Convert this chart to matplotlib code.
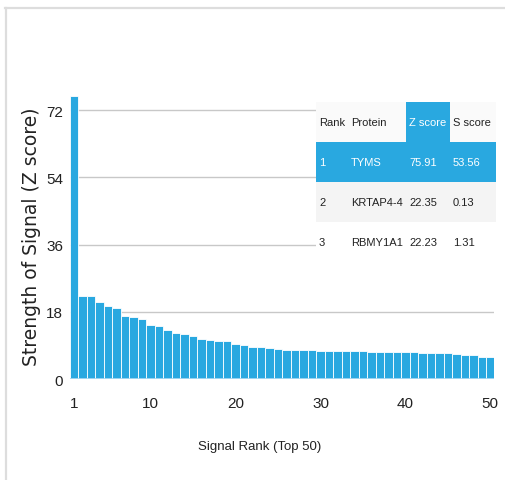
import matplotlib.pyplot as plt
from matplotlib.lines import Line2D
from matplotlib.patches import Rectangle

# Z scores of the top 50 signals
ranks = list(range(1, 51))
zscores = [75.91, 22.35, 22.23, 20.7, 19.5, 19.1, 16.9, 16.7, 16.0, 14.5,
           14.1, 13.2, 12.2, 12.0, 11.6, 10.8, 10.4, 10.3, 10.3, 9.5,
           9.2, 8.7, 8.6, 8.3, 8.1, 7.9, 7.8, 7.7, 7.7, 7.5,
           7.5, 7.5, 7.4, 7.4, 7.4, 7.3, 7.3, 7.3, 7.2, 7.2,
           7.2, 7.1, 7.1, 7.0, 6.9, 6.6, 6.5, 6.3, 5.9, 5.9]
yticks = [0, 18, 36, 54, 72]
xticks = [1, 10, 20, 30, 40, 50]

table_header = ["Rank", "Protein", "Z score", "S score"]
table_rows = [["1", "TYMS", "75.91", "53.56"],
              ["2", "KRTAP4-4", "22.35", "0.13"],
              ["3", "RBMY1A1", "22.23", "1.31"]]

blue = "#29a8e0"
narrow = ["Liberation Sans", "DejaVu Sans"]

W, H = 506, 481
fig = plt.figure(figsize=(W / 100, H / 100), dpi=100)

# outer frame (top and left only)
fig.add_artist(Line2D([5 / W, 1], [1 - 8.5 / H, 1 - 8.5 / H], color="#dddddd", lw=1.6))
fig.add_artist(Line2D([6 / W, 6 / W], [0, 1 - 8.5 / H], color="#dddddd", lw=1.6))

ax = fig.add_axes([70 / W, 1 - 380 / H, 424.5 / W, 287 / H])
ax.bar(ranks, zscores, width=1.0, color=blue, edgecolor="white", linewidth=0.6, zorder=2)
ax.axhline(0, color="#a9d9f2", lw=2, zorder=3)
ax.set_xlim(0.5, 50.5)
ax.set_ylim(0, 76.9)
ax.set_yticks(yticks)
ax.set_xticks(xticks)
for v in yticks[1:]:
    ax.axhline(v, color="#c8c8c8", lw=1, zorder=1)
for s in ax.spines.values():
    s.set_visible(False)
ax.tick_params(length=0, labelsize=11, colors="#222222")
ax.tick_params(axis="y", pad=5)
ax.tick_params(axis="x", pad=12)
for lab in ax.get_xticklabels() + ax.get_yticklabels():
    lab.set_family(narrow)
ax.set_xlabel("Signal Rank (Top 50)", family=narrow, fontsize=9.5, color="#222222", va="center")
ax.xaxis.set_label_coords(0.447, -0.233)
ax.set_ylabel("Strength of Signal (Z score)", fontsize=13.5, color="#222222", va="center")
ax.yaxis.set_label_coords(-0.09, 0.5)

# table in the upper right corner
tax = fig.add_axes([316 / W, 1 - 263 / H, 180 / W, 160 / H])
tax.set_xlim(0, 180)
tax.set_ylim(160, 0)
tax.axis("off")
col_edges = [0, 32, 90, 134, 180]
row_h = 40
row_bg = ["#fafafa", blue, "#f4f4f4", "white"]
for i, bg in enumerate(row_bg):
    tax.add_patch(Rectangle((0, i * row_h), 180, row_h, color=bg, lw=0))
tax.add_patch(Rectangle((col_edges[2], 0), col_edges[3] - col_edges[2], row_h, color=blue, lw=0))
for i, row in enumerate([table_header] + table_rows):
    for j, txt in enumerate(row):
        white = (i == 1) or (i == 0 and j == 2)
        tax.text(col_edges[j] + 3, i * row_h + row_h / 2, txt, family=narrow,
                 fontsize=8, ha="left", va="center",
                 color="white" if white else "#222222")

fig.savefig("out.png", dpi=100)
